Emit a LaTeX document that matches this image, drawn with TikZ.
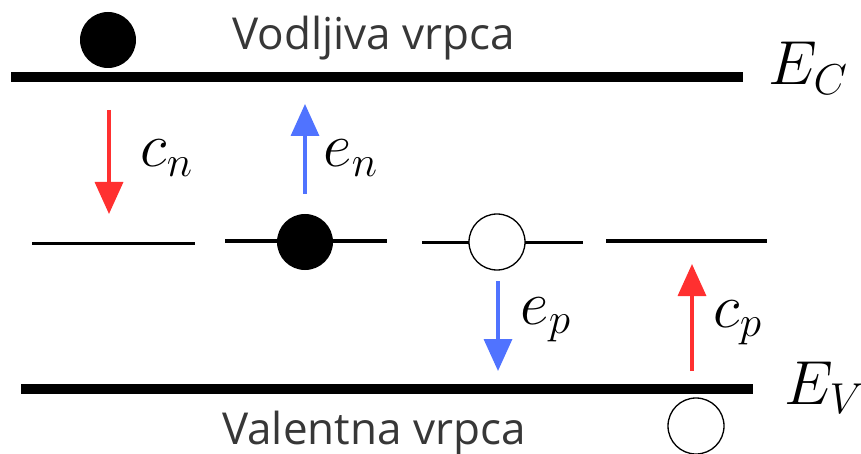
\documentclass[tikz,border=0pt]{standalone}
\usepackage{fontspec}
\newfontfamily\osans{Open Sans}
\usetikzlibrary{arrows.meta}
\definecolor{ared}{RGB}{255,48,48}
\definecolor{ablue}{RGB}{80,115,255}
\definecolor{tgray}{RGB}{55,55,55}
\tikzset{
  band/.style={line width=10pt},
  level/.style={line width=3pt},
  full/.style={circle,fill=black,minimum size=56pt,inner sep=0pt},
  empty/.style={circle,draw=black,line width=1.3pt,fill=white,minimum size=56pt,inner sep=0pt},
  trans/.style={line width=3.5pt,-{Triangle[length=32pt,width=28pt]}},
  mlab/.style={anchor=base west,inner sep=0pt,font=\fontsize{20}{24}\selectfont,scale=3},
  tlab/.style={anchor=base west,inner sep=0pt,text=tgray,font=\osans\fontsize{44}{52}\selectfont}
}
\begin{document}
\begin{tikzpicture}[x=1pt,y=-1pt]
\useasboundingbox (0,0) rectangle (861,454);
% bands
\coordinate (ec1) at (11,77.5); \coordinate (ec2) at (743,77.5);
\coordinate (ev1) at (21,389); \coordinate (ev2) at (753,389);
\draw[band] (ec1) -- (ec2);
\draw[band] (ev1) -- (ev2);
% trap levels
\coordinate (l1a) at (32,243); \coordinate (l1b) at (195,243);
\coordinate (l2a) at (225,241); \coordinate (l2b) at (387,241);
\coordinate (l3a) at (422,242); \coordinate (l3b) at (583,242);
\coordinate (l4a) at (606,241); \coordinate (l4b) at (767,241);
\draw[level] (l1a) -- (l1b);
\draw[level] (l2a) -- (l2b);
\draw[level] (l3a) -- (l3b);
\draw[level] (l4a) -- (l4b);
% carriers
\node[full] (e1) at (108,40) {};
\node[full] (e2) at (305,242) {};
\node[empty] (h1) at (497,242) {};
\node[empty] (h2) at (696,426) {};
% transitions
\coordinate (cn1) at (109,110); \coordinate (cn2) at (109,214);
\coordinate (en1) at (305,194); \coordinate (en2) at (305,104);
\coordinate (ep1) at (498,281); \coordinate (ep2) at (498,371);
\coordinate (cp1) at (692,371); \coordinate (cp2) at (692,264);
\draw[trans,ared] (cn1) -- (cn2);
\draw[trans,ablue] (en1) -- (en2);
\draw[trans,ablue] (ep1) -- (ep2);
\draw[trans,ared] (cp1) -- (cp2);
% labels
\node[mlab] (lcn) at (140,167) {$c_n$};
\node[mlab] (len) at (323,167) {$e_n$};
\node[mlab] (lep) at (520,324) {$e_p$};
\node[mlab] (lcp) at (713,327) {$c_p$};
\node[mlab] (lec) at (768,85) {$E_C$};
\node[mlab] (lev) at (784,404) {$E_V$};
\node[tlab] (tc) at (232,50) {Vodljiva vrpca};
\node[tlab] (tv) at (222,444) {Valentna vrpca};
\end{tikzpicture}
\end{document}
